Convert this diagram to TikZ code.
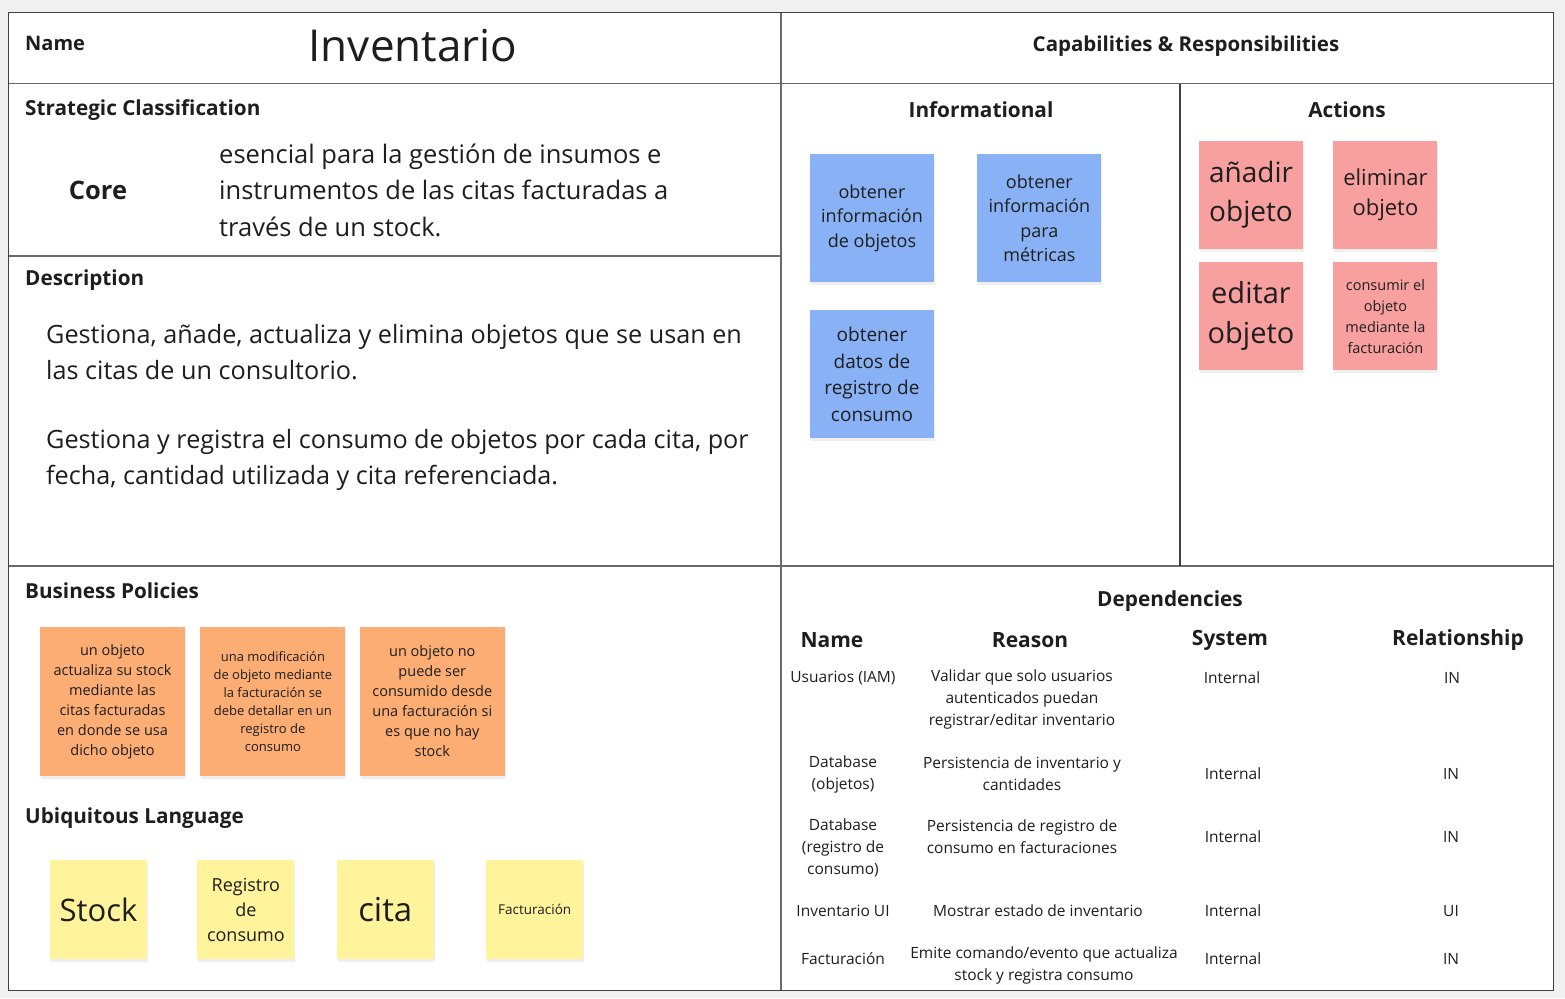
\documentclass[tikz,border=0pt]{standalone}
\usepackage{fontspec}
\setmainfont{Open Sans}
\usepackage{xcolor}
\usetikzlibrary{positioning,shadows}
\definecolor{pagebg}{HTML}{F0F0F0}
\definecolor{gridline}{HTML}{6A6A6A}
\definecolor{inktext}{HTML}{1E1E1E}
\definecolor{policyorange}{HTML}{FBAD74}
\definecolor{infoblue}{HTML}{88B2F5}
\definecolor{actionred}{HTML}{F8A0A0}
\definecolor{termyellow}{HTML}{FFF49C}
\newcommand{\fsz}[2]{\fontsize{#1}{#2}\selectfont}

\begin{document}
\begin{tikzpicture}[
    x=1pt, y=-1pt,
    every node/.style={text=inktext},
    grid/.style={draw=gridline, line width=1.5pt},
    sectiontitle/.style={font=\bfseries\fsz{20.7}{25}, anchor=west, inner sep=0pt},
    coltitle/.style={font=\bfseries\fsz{20.8}{25}, inner sep=0pt},
    depcell/.style={font=\fsz{15.5}{22}, align=center, inner sep=0pt},
    stickynote/.style={
        align=center,
        inner sep=2pt,
        drop shadow={shadow xshift=1pt, shadow yshift=-3pt, opacity=0.12}
    },
    policy/.style={stickynote, fill=policyorange, minimum width=145pt, minimum height=149pt},
    info/.style={stickynote, fill=infoblue, minimum width=124pt, minimum height=128pt},
    action/.style={stickynote, fill=actionred, minimum width=104pt, minimum height=108pt},
    term/.style={stickynote, fill=termyellow, minimum width=97pt, minimum height=99pt},
    node distance=13pt and 15pt
]
\useasboundingbox (0,0) rectangle (1565,998);
\fill[pagebg] (0,0) rectangle (1565,998);
\fill[white] (8.5,12.5) rectangle (1553.5,990.5);

% canvas grid
\draw[grid] (8.5,83.5) -- (1553.5,83.5);
\draw[grid] (8.5,256) -- (781,256);
\draw[grid] (8.5,566) -- (1553.5,566);
\draw[grid] (781,12.5) -- (781,990.5);
\draw[grid, draw=inktext!85] (1180,83.5) -- (1180,566);
\draw[grid, draw=inktext!85] (8.5,12.5) rectangle (1553.5,990.5);

% name
\node[sectiontitle, font=\bfseries\fsz{20}{24}] (nametitle) at (25,43) {Name};
\node[font=\fsz{44}{50}, inner sep=0pt] (bcname) at (413,46) {Inventario};
\node[coltitle, font=\bfseries\fsz{20.5}{24}] (captitle) at (1186,46) {Capabilities \& Responsibilities};

% strategic classification
\node[sectiontitle] (strattitle) at (25,110) {Strategic Classification};
\node[font=\bfseries\fsz{25.5}{30}, inner sep=0pt] (core) at (98,190) {Core};
\node[font=\fsz{25.5}{36.5}, align=left, anchor=west, inner sep=0pt] (corewhy) at (219,190)
  {esencial para la gestión de insumos e\\
   instrumentos de las citas facturadas a\\
   través de un stock.};

% description
\node[sectiontitle] (desctitle) at (25,280) {Description};
\node[font=\fsz{25.2}{36}, align=left, anchor=west, inner sep=0pt] (descone) at (46,352)
  {Gestiona, añade, actualiza y elimina objetos que se usan en\\
   las citas de un consultorio.};
\node[font=\fsz{25.2}{36}, align=left, anchor=west, inner sep=0pt] (desctwo) at (46,460)
  {Gestiona y registra el consumo de objetos por cada cita, por\\
   fecha, cantidad utilizada y cita referenciada.};

% business policies
\node[sectiontitle] (poltitle) at (25,591) {Business Policies};
\node[policy, font=\fsz{14.5}{20}] (polstock) at (112.5,701.5)
  {un objeto\\actualiza su stock\\mediante las\\citas facturadas\\en donde se usa\\dicho objeto};
\node[policy, font=\fsz{13}{18}, right=15pt of polstock] (polmodif)
  {una modificación\\de objeto mediante\\la facturación se\\debe detallar en un\\registro de\\consumo};
\node[policy, font=\fsz{14.5}{20}, right=14pt of polmodif] (polnostock)
  {un objeto no\\puede ser\\consumido desde\\una facturación si\\es que no hay\\stock};

% ubiquitous language
\node[sectiontitle] (ubititle) at (25,818) {Ubiquitous Language};
\node[term, font=\fsz{31}{36}] (ulstock) at (98.5,909.5) {Stock};
\node[term, font=\fsz{18}{25}, right=50pt of ulstock] (ulregistro) {Registro\\de\\consumo};
\node[term, font=\fsz{33}{38}, right=42pt of ulregistro] (ulcita) {cita};
\node[term, font=\fsz{13.5}{18}, right=52pt of ulcita] (ulfactura) {Facturación};

% informational
\node[coltitle] (infotitle) at (981,110) {Informational};
\node[info, font=\fsz{18}{24.5}] (infoobj) at (872,218) {obtener\\información\\de objetos};
\node[info, font=\fsz{18}{24.5}, right=43pt of infoobj] (infometric) {obtener\\información\\para\\métricas};
\node[info, font=\fsz{19}{26.7}, below=28pt of infoobj] (inforeg) {obtener\\datos de\\registro de\\consumo};

% actions
\node[coltitle] (acttitle) at (1347,110) {Actions};
\node[action, font=\fsz{28}{39}] (actadd) at (1251,195) {añadir\\objeto};
\node[action, font=\fsz{22}{30}, right=30pt of actadd] (actdel) {eliminar\\objeto};
\node[action, font=\fsz{29}{40}, below=13pt of actadd] (actedit) {editar\\objeto};
\node[action, font=\fsz{14.5}{21}, below=13pt of actdel] (actuse) {consumir el\\objeto\\mediante la\\facturación};

% dependencies
\node[coltitle] (deptitle) at (1170,601) {Dependencies};
\node[coltitle, font=\bfseries\fsz{21}{25}] (hname) at (832,640) {Name};
\node[coltitle, font=\bfseries\fsz{21}{25}] (hreason) at (1030,640) {Reason};
\node[coltitle, font=\bfseries\fsz{21}{25}] (hsystem) at (1230,640) {System};
\node[coltitle, font=\bfseries\fsz{21}{25}] (hrel) at (1458,640) {Relationship};

\node[depcell] (iamname) at (843,678) {Usuarios (IAM)};
\node[depcell, anchor=north] (iamwhy) at (1022,670) {Validar que solo usuarios\\autenticados puedan\\registrar/editar inventario};
\node[depcell] (iamsys) at (1232,678) {Internal};
\node[depcell] (iamrel) at (1452,678) {IN};

\node[depcell] (dbobjname) at (843,774) {Database\\(objetos)};
\node[depcell] (dbobjwhy) at (1022,774) {Persistencia de inventario y\\cantidades};
\node[depcell] (dbobjsys) at (1233,774) {Internal};
\node[depcell] (dbobjrel) at (1451,774) {IN};

\node[depcell] (dbregname) at (843,848) {Database\\(registro de\\consumo)};
\node[depcell] (dbregwhy) at (1022,837) {Persistencia de registro de\\consumo en facturaciones};
\node[depcell] (dbregsys) at (1233,837) {Internal};
\node[depcell] (dbregrel) at (1451,837) {IN};

\node[depcell] (uiname) at (843,911) {Inventario UI};
\node[depcell] (uiwhy) at (1038,911) {Mostrar estado de inventario};
\node[depcell] (uisys) at (1233,911) {Internal};
\node[depcell] (uirel) at (1451,911) {UI};

\node[depcell] (factname) at (843,959) {Facturación};
\node[depcell] (factwhy) at (1044,965) {Emite comando/evento que actualiza\\stock y registra consumo};
\node[depcell] (factsys) at (1233,959) {Internal};
\node[depcell] (factrel) at (1451,959) {IN};
\end{tikzpicture}
\end{document}
